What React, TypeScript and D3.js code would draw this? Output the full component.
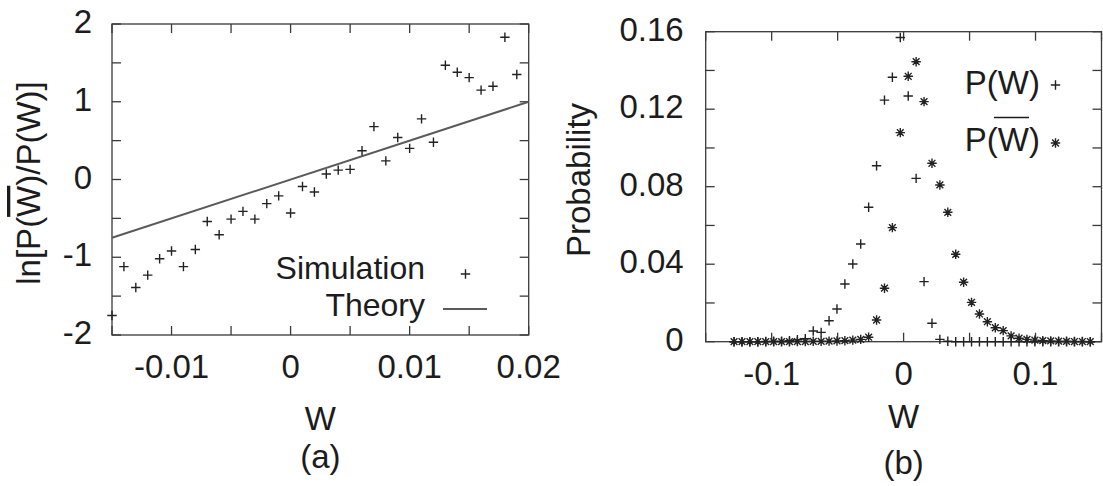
import React from "react";
import * as d3 from "d3";

// ---- Panel (a) data ----
const W_A = [-0.015, -0.014, -0.013, -0.012, -0.011, -0.01, -0.009, -0.008, -0.007, -0.006, -0.005, -0.004, -0.003, -0.002, -0.001, 0, 0.001, 0.002, 0.003, 0.004, 0.005, 0.006, 0.007, 0.008, 0.009, 0.01, 0.011, 0.012, 0.013, 0.014, 0.015, 0.016, 0.017, 0.018, 0.019];
const LNR_A = [-1.75, -1.12, -1.39, -1.23, -1.02, -0.92, -1.12, -0.9, -0.54, -0.71, -0.51, -0.41, -0.51, -0.31, -0.21, -0.43, -0.09, -0.16, 0.07, 0.12, 0.13, 0.37, 0.68, 0.24, 0.54, 0.4, 0.78, 0.48, 1.47, 1.38, 1.31, 1.15, 1.2, 1.83, 1.35];
const THEORY_W = [-0.015, 0.02];
const THEORY_V = [-0.75, 1.0];
const XTICKS_A = [-0.015, -0.01, -0.005, 0, 0.005, 0.01, 0.015, 0.02];
const XLABELS_A = [-0.01, 0, 0.01, 0.02];
const YTICKS_A = [-2, -1.5, -1, -0.5, 0, 0.5, 1, 1.5, 2];
const YLABELS_A = [-2, -1, 0, 1, 2];

// ---- Panel (b) data ----
const W_B = [-0.1285, -0.1225, -0.1165, -0.1105, -0.1045, -0.0985, -0.0925, -0.0865, -0.0805, -0.0745, -0.0685, -0.0625, -0.0565, -0.0505, -0.0445, -0.0385, -0.0325, -0.0265, -0.0205, -0.0145, -0.0085, -0.0025, 0.0035, 0.0095, 0.0155, 0.0215, 0.0275, 0.0335, 0.0395, 0.0455, 0.0515, 0.0575, 0.0635, 0.0695, 0.0755, 0.0815, 0.0875, 0.0935, 0.0995, 0.1055, 0.1115, 0.1175, 0.1235, 0.1295, 0.1355, 0.1415];
const P_W = [0, 0, 0, 0, 0.0001, 0.0002, 0.0003, 0.0005, 0.001, 0.0015, 0.0055, 0.0048, 0.0108, 0.0169, 0.0298, 0.0401, 0.0504, 0.0694, 0.0908, 0.1247, 0.1365, 0.157, 0.1268, 0.0843, 0.031, 0.0095, 0.0012, 0.0002, 0, 0, 0, 0, 0, 0, 0, 0, 0, 0, 0, 0, 0, 0, 0, 0, 0, 0];
const P_WBAR = [0, 0, 0, 0, 0, 0, 0, 0, 0.0001, 0.0001, 0.0002, 0.0002, 0.0003, 0.0004, 0.0005, 0.0008, 0.0012, 0.0023, 0.0112, 0.0276, 0.0589, 0.1079, 0.137, 0.1445, 0.1239, 0.0921, 0.0809, 0.0668, 0.0451, 0.0307, 0.0203, 0.0143, 0.0103, 0.0072, 0.0057, 0.003, 0.0018, 0.0012, 0.0008, 0.0005, 0.0004, 0.0003, 0.0002, 0.0001, 0.0001, 0];
const XTICKS_B = [-0.15, -0.1, -0.05, 0, 0.05, 0.1, 0.15];
const XLABELS_B = [-0.1, 0, 0.1];
const YTICKS_B = [0, 0.02, 0.04, 0.06, 0.08, 0.1, 0.12, 0.14, 0.16];
const YLABELS_B = [0, 0.04, 0.08, 0.12, 0.16];

const FONT = "'Liberation Sans', Arial, Helvetica, sans-serif";
const FS = 33;
const TXT = "#1c1c1c";
const FRAME = "#3a3a3a";
const MARK = "#222";
const TICK = 9;

const fmt = (v: number) => (v === 0 ? "0" : String(v));

function plus(x: number, y: number, r = 4.7) {
  return `M${x - r},${y}H${x + r}M${x},${y - r}V${y + r}`;
}
function star(x: number, y: number, r = 4.7) {
  const d = r * 0.72;
  return `M${x - r},${y}H${x + r}M${x},${y - r}V${y + r}M${x - d},${y - d}L${x + d},${y + d}M${x - d},${y + d}L${x + d},${y - d}`;
}

function Frame({ x0, x1, y0, y1, xs, ys, xticks, yticks }: any) {
  return (
    <g stroke={FRAME} strokeWidth={1.3} fill="none">
      <rect x={x0} y={y0} width={x1 - x0} height={y1 - y0} />
      {xticks.map((t: number, i: number) => (
        <g key={"x" + i}>
          <line x1={xs(t)} x2={xs(t)} y1={y1} y2={y1 - TICK} />
          <line x1={xs(t)} x2={xs(t)} y1={y0} y2={y0 + TICK} />
        </g>
      ))}
      {yticks.map((t: number, i: number) => (
        <g key={"y" + i}>
          <line x1={x0} x2={x0 + TICK} y1={ys(t)} y2={ys(t)} />
          <line x1={x1} x2={x1 - TICK} y1={ys(t)} y2={ys(t)} />
        </g>
      ))}
    </g>
  );
}

export default function App() {
  // Panel (a)
  const ax0 = 112, ax1 = 528.7, ay0 = 24, ay1 = 335;
  const xa = d3.scaleLinear().domain([-0.015, 0.02]).range([ax0, ax1]);
  const ya = d3.scaleLinear().domain([-2, 2]).range([ay1, ay0]);
  const theoryLine = d3
    .line<number>()
    .x((_, i) => xa(THEORY_W[i]))
    .y((v) => ya(v))(THEORY_V) as string;

  // Panel (b)
  const bx0 = 705.7, bx1 = 1101.5, by0 = 31.7, by1 = 341.7;
  const xb = d3.scaleLinear().domain([-0.15, 0.15]).range([bx0, bx1]);
  const yb = d3.scaleLinear().domain([0, 0.16]).range([by1, by0]);

  const simPath = W_A.map((w, i) => plus(xa(w), ya(LNR_A[i]))).join("");
  const pwPath = W_B.map((w, i) => plus(xb(w), yb(P_W[i]))).join("");
  const pwbPath = W_B.map((w, i) => star(xb(w), yb(P_WBAR[i]))).join("");

  return (
    <svg
      width={1103}
      height={486}
      style={{ position: "absolute", left: 0, top: 0, background: "#fff" }}
      fontFamily={FONT}
    >
      <rect x={0} y={0} width={1103} height={486} fill="#fff" />
      {/* ---------- Panel (a) ---------- */}
      <Frame x0={ax0} x1={ax1} y0={ay0} y1={ay1} xs={xa} ys={ya} xticks={XTICKS_A} yticks={YTICKS_A} />
      <path d={theoryLine} stroke="#5a5a5a" strokeWidth={2} fill="none" />
      <path d={simPath} stroke={MARK} strokeWidth={1.4} fill="none" />
      <g fill={TXT} fontSize={FS}>
        {YLABELS_A.map((t) => (
          <text key={t} x={ax0 - 20} y={ya(t) + 9} textAnchor="end">
            {fmt(t)}
          </text>
        ))}
        {XLABELS_A.map((t) => (
          <text key={t} x={xa(t)} y={378} textAnchor="middle">
            {fmt(t)}
          </text>
        ))}
        <text x={(ax0 + ax1) / 2} y={430} textAnchor="middle">W</text>
        <text x={(ax0 + ax1) / 2} y={468} textAnchor="middle">(a)</text>
        <text transform={`translate(40,183) rotate(-90)`} textAnchor="middle">
          ln[P(<tspan textDecoration="overline" style={{ textDecoration: "overline" }}>W</tspan>)/P(W)]
        </text>
      </g>
      {/* legend (a) */}
      <g fill={TXT} fontSize={32}>
        <text x={425} y={279} textAnchor="end">Simulation</text>
        <text x={425} y={316} textAnchor="end">Theory</text>
      </g>
      <path d={plus(465.5, 274)} stroke={MARK} strokeWidth={1.4} fill="none" />
      <line x1={443} x2={487} y1={309} y2={309} stroke="#5a5a5a" strokeWidth={2} />

      {/* ---------- Panel (b) ---------- */}
      <Frame x0={bx0} x1={bx1} y0={by0} y1={by1} xs={xb} ys={yb} xticks={XTICKS_B} yticks={YTICKS_B} />
      <path d={pwbPath} stroke={MARK} strokeWidth={1.4} fill="none" />
      <path d={pwPath} stroke={MARK} strokeWidth={1.4} fill="none" />
      <g fill={TXT} fontSize={FS}>
        {YLABELS_B.map((t) => (
          <text key={t} x={bx0 - 22} y={yb(t) + 9} textAnchor="end">
            {fmt(t)}
          </text>
        ))}
        {XLABELS_B.map((t) => (
          <text key={t} x={xb(t)} y={385} textAnchor="middle">
            {fmt(t)}
          </text>
        ))}
        <text x={(bx0 + bx1) / 2} y={428} textAnchor="middle">W</text>
        <text x={(bx0 + bx1) / 2} y={474} textAnchor="middle">(b)</text>
        <text transform={`translate(590,180) rotate(-90)`} textAnchor="middle">Probability</text>
        {/* legend */}
        <text x={1040} y={94} textAnchor="end">P(W)</text>
        <text x={1040} y={151} textAnchor="end">P(W)</text>
      </g>
      <line x1={994} x2={1029} y1={117.5} y2={117.5} stroke={TXT} strokeWidth={1.6} />
      <path d={plus(1055.5, 85)} stroke={MARK} strokeWidth={1.4} fill="none" />
      <path d={star(1055.5, 143)} stroke={MARK} strokeWidth={1.4} fill="none" />
    </svg>
  );
}
